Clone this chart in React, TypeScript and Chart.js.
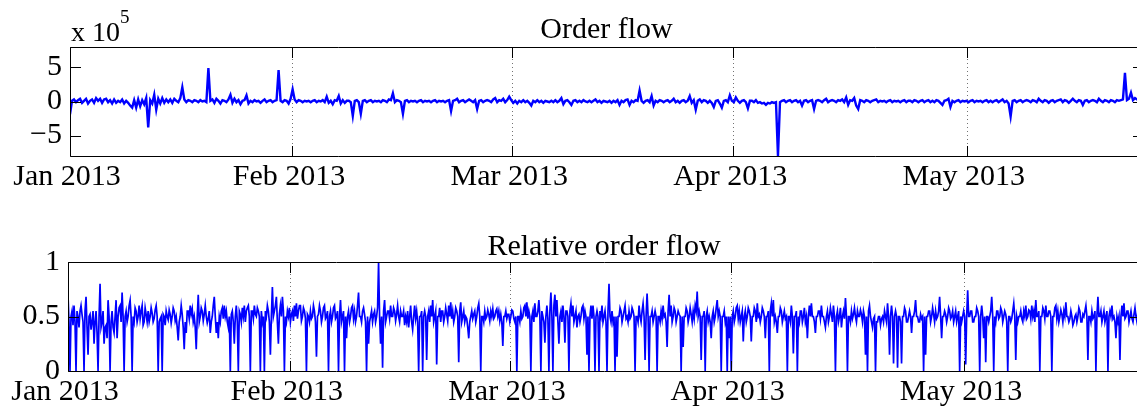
import React, { useEffect, useRef } from "react";
import { Chart, registerables } from "chart.js";

Chart.register(...registerables);

// ---- axis definitions ----
const monthTicks = [0, 21.1, 42.05, 63.05, 85.25];
const monthLabels = ["Jan 2013", "Feb 2013", "Mar 2013", "Apr 2013", "May 2013"];
const xSpan = 102;

const orderFlowTicks = [-5, 0, 5];
const orderFlowTickLabels = ["\u22125", "0", "5"];
const relTicks = [0, 0.5, 1];
const relTickLabels = ["0", "0.5", "1"];

// ---- series: order flow (units of 10^5) ----
const orderFlowE5 = [
  -1.9, .1, .3, -.1, .2, .4, -.2, .1, .4, -.3, .1, .3, -.2, .5, .1, .4, -.2, .3, .4, -.1,
  .2, -.3, .3, -.2, .1, -.1, .3, -.3, .1, -.2, -.6, -.9, .2, -.9, .3, -.7, .2, -.4, .5, -3.8,
  .2, -.3, 1, -1.2, .4, -.3, .5, -.2, .3, -.1, .3, -.2, .4, .1, -.1, .5, 2.1, .3, -.1, .2,
  .1, -.1, .2, .1, -.1, .2, 0, .1, -.1, 4.9, .1, .3, -.2, .4, .1, -.3, .2, .1, -.1, .3,
  1, -.2, .4, -.1, .2, -.4, .1, .2, .9, -.3, .1, -.1, .2, 0, .1, -.2, .1, .3, -.1, .1,
  .2, -.1, .1, .2, 4.6, .1, -.1, .2, .1, -.3, .4, 1.8, .3, -.1, .2, .1, -.1, .1, 0, .1,
  -.1, .1, .2, -.1, .1, 0, .2, -.1, .7, -.2, .1, -.4, .2, .1, .8, -.3, .2, -.2, .1, .1,
  -.1, -2.1, .1, .2, -.1, -1.8, .1, .2, -.1, .1, .2, -.1, .1, 0, .1, -.1, .2, .1, -.1, .3,
  .2, 1.2, -.1, .2, .1, -.1, -1.8, .1, .2, -.1, .1, 0, .1, -.1, .1, .2, -.1, .1, 0, .1,
  -.1, .1, .2, -.1, .1, 0, .1, -.1, .1, .2, -1.4, .1, .2, .4, -.1, .1, .2, -.1, .1, .3,
  .1, -.1, .2, -1.1, .1, .2, -.1, .1, .2, .1, -.1, .3, .5, -.1, .2, .1, .4, -.1, .2, .7,
  .2, -.2, .1, -.3, .1, -.1, .2, -.1, .1, -.2, -.6, .1, -.1, .2, -.1, .1, -.2, .1, 0, -.1,
  .1, -.1, .2, -.1, .1, .5, -.4, .1, .2, -.1, -.5, .1, .2, -.1, .1, -.1, .2, 0, -.1, .1,
  -.1, .1, .3, -.1, .1, -.2, .1, 0, -.1, .1, -.2, .1, -.1, .2, -.5, .1, -.1, .2, .3, -.5,
  .1, -.1, .2, .1, 1.6, .1, -.2, .1, .2, -.1, .8, -.6, .1, -.1, .2, .1, -.1, .1, .2, -.1,
  .1, .4, -.1, .1, -.2, .1, .2, -.1, .1, .8, -.2, .2, -1.2, .1, .3, -.1, .2, .1, -.2, .1,
  -.2, -.8, .1, .2, -.3, -.9, .1, .2, -.1, .9, .1, -.1, .6, .1, -.2, .1, .2, -.1, -1, .1,
  .1, -.1, .2, -.2, -.1, -.3, -.2, -.5, -.2, -.3, -.1, -.2, -.1, -8, -.1, .1, .2, -.1, .1, .2,
  -.1, .1, .2, -.1, .1, -.6, .1, .2, -.1, .1, .2, -1.1, .1, .2, .1, -.1, .2, .4, -.1, .1,
  .2, .1, -.1, .2, .1, .3, -.1, .6, -.5, .2, .1, .5, -.6, -1.1, .2, .1, -.1, .2, .1, -.1,
  .1, .2, .3, -.1, .1, 0, .1, -.1, .1, .2, -.1, .1, 0, .1, -.1, .1, .2, -.1, .1, .1,
  -.1, .2, .1, -.1, .1, .2, -.1, .1, .2, -.1, .1, -.1, .2, .1, -.2, -.5, .1, .2, .4, -.8,
  .1, -.1, .1, .2, -.1, .1, 0, .1, -.1, .1, .2, -.1, .1, 0, .1, -.1, .1, .2, -.1, .1,
  -.1, .1, .2, -.1, .1, .3, -.1, .1, -.3, -2.2, .1, .2, -.1, .1, .2, -.1, .1, .2, .1, -.1,
  .2, .1, -.1, .4, .1, -.1, .2, .1, -.2, .1, .2, -.1, .1, .2, .3, -.1, .2, .1, -.2, .1,
  .4, .1, -.1, .2, .1, -.5, .1, .2, -.1, .1, .2, .1, -.1, .4, .1, -.1, .2, .1, -.1, .2,
  .1, -.1, .2, .1, .2, .3, 4.2, .2, .4, 1.3, .2, .5, .3, .2, .3, .2,
];

// ---- series: relative order flow ----
const relOrderFlow = [
  .7, .45, 0, .5, .55, .42, .6, .45, 0, .55, .5, .4, .55, .6, .52, .45, 0, .55, .68, .4,
  .15, .5, .52, .38, .45, .55, .25, .45, .55, .35, 0, .5, .8, .4, .45, .55, .25, .4, .42, .3,
  .65, .5, 0, .45, .55, .4, .35, .5, .65, .3, .5, .58, .6, .45, .72, .5, 0, .5, .55, .45,
  .5, .6, .65, .5, 0, .5, .45, .58, .55, .45, .5, .6, .48, .55, .6, .42, .45, .58, .52, .45,
  .55, .45, .5, .58, .53, .45, .48, .56, .6, .5, 0, .45, .48, .5, 0, .52, .5, .42, .55, .5,
  .47, .56, .52, .44, .5, .58, .55, .46, .5, .4, .28, .45, .5, .6, .52, .4, .2, .45, .35, .55,
  .55, .48, .6, .52, .57, .45, .5, .4, .2, .5, .7, .45, .5, .58, .55, .46, .52, .6, .5, .44,
  .48, .55, .35, .45, .5, .6, .68, .5, .35, .45, .3, .5, .45, .55, .58, .48, .6, .5, .55, .45,
  .4, .5, 0, .52, .55, .45, .25, .5, .6, .45, 0, .55, .52, .45, .58, .5, .6, .45, .55, .58,
  .6, .5, 0, .55, .55, .48, .6, .52, .5, .58, .55, .5, 0, .55, .45, .5, 0, .55, .5, .6,
  .55, .45, .15, .5, .77, .5, .55, .6, .68, .45, .25, .52, .6, .5, .68, .55, 0, .5, .45, .55,
  .5, .58, .45, .52, .55, .46, .6, .5, .62, .48, .55, .6, .6, .46, .5, .58, .55, .48, 0, .52,
  .5, .45, .55, .48, .5, .6, .55, .45, .13, .5, .52, .6, .55, .45, .5, .58, .6, .48, .5, .55,
  0, .5, .55, .45, .5, .58, .6, .48, .5, .55, 0, .5, .65, .45, .5, .55, 0, .5, .3, .5,
  .55, .45, .5, .58, .6, .48, .55, .45, .5, .6, .72, .5, .5, .45, .55, .58, .52, .45, 0, .5,
  .25, .45, .5, .55, .45, .52, .55, .45, .5, .58, 1, .5, .25, .5, .03, .55, .65, .45, .5, .55,
  .55, .48, .6, .5, .5, .58, .55, .46, .52, .6, .5, .45, .55, .5, .5, .55, .42, .5, .45, .55,
  .4, .5, .6, .45, .38, .5, .6, .48, .55, .45, 0, .5, .5, .55, 0, .5, .55, .5, .1, .5,
  .55, .45, .6, .5, .65, .45, .5, .55, .06, .5, .5, .58, .45, .55, .55, .45, .5, .58, .52, .46,
  .6, .5, .63, .48, .55, .45, .5, .58, .55, .5, .08, .55, .63, .45, .5, .55, .45, .5, .48, .4,
  .3, .45, .5, .55, .48, .52, .55, .45, .5, .58, .62, .5, 0, .5, .5, .45, .55, .48, .5, .56,
  .52, .46, .55, .5, .57, .48, .5, .55, .57, .5, .55, .46, .52, .45, .23, .5, .5, .55, .48, .52,
  .52, .45, .5, .56, .55, .48, .45, .5, 0, .5, .5, .45, .55, .48, .5, .58, .6, .5, .63, .48,
  .55, .5, 0, .5, .55, .45, .62, .5, .5, .55, .65, .5, 0, .55, .5, .45, .26, .5, .6, .48,
  0, .55, .72, .5, 0, .6, .7, .5, .65, .45, .25, .5, .55, .45, .6, .5, .26, .55, .55, .5,
  0, .55, .62, .5, .6, .45, .5, .55, .4, .5, .52, .45, .5, .58, .6, .48, .55, .5, .15, .5,
  0, .5, .6, .48, .6, .5, 0, .5, .55, .5, 0, .55, .5, .6, .45, .5, .55, .45, 0, .55,
  .8, .5, .45, .55, .45, .5, 0, .5, .13, .5, .5, .58, .55, .45, .5, .55, .6, .48, .5, .45,
  .55, .48, .5, .58, .55, .5, 0, .5, .5, .45, .6, .5, .45, .55, .62, .5, .1, .5, .71, .5,
  0, .5, .5, .55, .45, .5, .55, .5, 0, .5, .5, .45, .55, .48, .6, .5, .52, .45, .22, .55,
  .7, .5, .6, .45, .5, .58, .55, .45, .5, .55, .52, .5, 0, .5, .22, .5, .5, .58, .55, .45,
  .5, .58, .52, .45, .55, .48, .6, .55, .73, .5, .55, .5, .1, .5, .5, .55, 0, .5, .55, .45,
  .5, .45, .3, .5, .55, .45, .5, .58, .65, .5, .55, .5, 0, .5, .5, .55, .45, .5, 0, .5,
  .3, .5, 0, .5, .55, .45, .5, .58, .6, .48, .55, .45, .5, .55, .27, .5, .55, .45, .5, .58,
  .55, .5, .27, .5, .5, .58, .55, .45, .62, .5, .52, .45, .5, .58, .55, .5, .3, .5, .5, .55,
  0, .55, .62, .5, .65, .45, .5, .45, .35, .5, .5, .58, .55, .45, .5, .55, .48, .5, 0, .5,
  .5, .45, .6, .5, .16, .5, .5, .55, 0, .5, .45, .55, .55, .45, .5, .58, .45, .5, .3, .5,
  .6, .5, .62, .5, .5, .45, .35, .5, .5, .55, .55, .48, .6, .5, .5, .45, .4, .5, .55, .45,
  .5, .58, .52, .45, .6, .5, 0, .5, .55, .45, .5, .58, .4, .5, .55, .48, .67, .5, 0, .5,
  .5, .45, .55, .48, .52, .58, .5, .45, .55, .5, .5, .56, .52, .45, .55, .5, .15, .5, 0, .55,
  .6, .5, .45, .4, .48, .5, 0, .45, .45, .5, .5, .42, .48, .5, .45, .55, .5, .45, .62, .5,
  .15, .5, .6, .5, .07, .5, .55, .5, .03, .5, .5, .45, .07, .5, .5, .58, .55, .45, .45, .5,
  .55, .5, .35, .5, .5, .55, .65, .5, .5, .45, .45, .52, .48, .5, 0, .5, .15, .5, .5, .55,
  .55, .45, .5, .58, .52, .45, .55, .48, .5, .55, .68, .5, .3, .5, .5, .55, .52, .45, .5, .58,
  .55, .48, .5, .55, .45, .5, .55, .45, .5, .55, 0, .5, .45, .5, .55, .5, .06, .5, .74, .5,
  .5, .55, .55, .45, .45, .5, .5, .58, .55, .5, 0, .5, .6, .5, .3, .5, .08, .5, .5, .45,
  .5, .55, .68, .5, 0, .5, .45, .55, .55, .48, .5, .58, .55, .45, .5, .55, .52, .45, 0, .5,
  .5, .45, .48, .55, .62, .5, .1, .5, .45, .5, .5, .55, .48, .45, .55, .5, .6, .48, .5, .56,
  .55, .48, .6, .5, .55, .45, .65, .5, .5, .55, 0, .5, .5, .58, .55, .48, .6, .5, .5, .55,
  .55, .5, 0, .5, .5, .58, .6, .48, .55, .45, .5, .56, .52, .45, .55, .5, .63, .5, .5, .45,
  .48, .55, .5, .42, .45, .5, .52, .45, .5, .58, .55, .45, .45, .52, .5, .55, .6, .5, .1, .5,
  .5, .45, .55, .48, .5, .55, 0, .5, .68, .5, .5, .55, .45, .5, .55, .45, .5, .55, 0, .5,
  .55, .5, .6, .48, .5, .45, .3, .5, .45, .5, .1, .5, .6, .5, .62, .48, .5, .55, .55, .45,
  .5, .55, .48, .45, .52, .58, .5, .45, .55, .5, .5,
];

const FONT = '"Liberation Serif", "Times New Roman", Times, serif';
const CANVAS_W = 1160;
const CANVAS_H = 205;

type Panel = {
  values: number[];
  yMin: number;
  yMax: number;
  yTicks: number[];
  yLabels: string[];
  left: number;
  right: number;
  top: number;
  bottom: number;
  title: string;
  titleY: number;
  lineWidth: number;
  exponent: boolean;
};

function framePlugin(p: Panel) {
  return {
    id: "matlabFrame",
    beforeDatasetsDraw(chart: any) {
      const { ctx, chartArea: a, scales } = chart;
      const x = scales.x;
      ctx.save();
      ctx.strokeStyle = "rgba(0,0,0,0.55)";
      ctx.lineWidth = 1;
      ctx.setLineDash([1, 3]);
      for (const v of monthTicks) {
        const px = Math.round(x.getPixelForValue(v)) + 0.5;
        ctx.beginPath();
        ctx.moveTo(px, a.top);
        ctx.lineTo(px, a.bottom);
        ctx.stroke();
      }
      ctx.restore();
    },
    afterDraw(chart: any) {
      const { ctx, chartArea: a, scales } = chart;
      const x = scales.x;
      const y = scales.y;
      const L = Math.round(a.left) + 0.5;
      const R = Math.round(a.right) + 0.5;
      const T = Math.round(a.top) + 0.5;
      const B = Math.round(a.bottom) + 0.5;
      const tl = 10.5;
      ctx.save();
      ctx.strokeStyle = "#000";
      ctx.lineWidth = 1;
      ctx.setLineDash([]);
      ctx.beginPath();
      ctx.rect(L, T, R - L, B - T);
      ctx.stroke();
      ctx.beginPath();
      for (const v of monthTicks) {
        const px = Math.round(x.getPixelForValue(v)) + 0.5;
        ctx.moveTo(px, B);
        ctx.lineTo(px, B - tl);
        ctx.moveTo(px, T);
        ctx.lineTo(px, T + tl);
      }
      for (const v of p.yTicks) {
        const py = Math.round(y.getPixelForValue(v)) + 0.5;
        ctx.moveTo(L, py);
        ctx.lineTo(L + tl, py);
        ctx.moveTo(R, py);
        ctx.lineTo(R - tl, py);
      }
      ctx.stroke();

      ctx.fillStyle = "#000";
      ctx.textAlign = "center";
      ctx.textBaseline = "alphabetic";
      ctx.font = `30px ${FONT}`;
      ctx.fillText(p.title, (a.left + a.right) / 2, p.titleY);

      if (p.exponent) {
        ctx.textAlign = "left";
        ctx.font = `28px ${FONT}`;
        ctx.fillText("x 10", 71, 41);
        ctx.font = `19px ${FONT}`;
        ctx.fillText("5", 120, 23);
      }
      ctx.restore();
    },
  };
}

function buildConfig(p: Panel): any {
  const n = p.values.length;
  const points = p.values.map((v, i) => ({ x: (i * xSpan) / (n - 1), y: v }));
  return {
    type: "line",
    data: {
      datasets: [
        {
          data: points,
          borderColor: "#0000ff",
          borderWidth: p.lineWidth,
          pointRadius: 0,
          tension: 0,
          fill: false,
          borderJoinStyle: "miter",
        },
      ],
    },
    options: {
      animation: false,
      responsive: false,
      events: [],
      layout: {
        padding: { left: 0, right: CANVAS_W - p.right, top: p.top, bottom: 0 },
      },
      plugins: {
        legend: { display: false },
        tooltip: { enabled: false },
        title: { display: false },
      },
      scales: {
        x: {
          type: "linear",
          min: 0,
          max: xSpan,
          afterBuildTicks: (s: any) => {
            s.ticks = monthTicks.map((v) => ({ value: v }));
          },
          afterFit: (s: any) => {
            s.height = CANVAS_H - p.bottom;
          },
          ticks: {
            autoSkip: false,
            maxRotation: 0,
            padding: 6,
            labelOffset: -3,
            color: "#000",
            font: { family: FONT, size: 30, lineHeight: 1 },
            callback: (v: any) => {
              const k = monthTicks.indexOf(Number(v));
              return k >= 0 ? monthLabels[k] : "";
            },
          },
          grid: { display: false, drawTicks: false },
          border: { display: false },
        },
        y: {
          type: "linear",
          min: p.yMin,
          max: p.yMax,
          afterBuildTicks: (s: any) => {
            s.ticks = p.yTicks.map((v) => ({ value: v }));
          },
          afterFit: (s: any) => {
            s.width = p.left;
          },
          ticks: {
            autoSkip: false,
            padding: 8,
            color: "#000",
            font: { family: FONT, size: 30, lineHeight: 1 },
            callback: (v: any) => {
              const k = p.yTicks.indexOf(Number(v));
              return k >= 0 ? p.yLabels[k] : "";
            },
          },
          grid: { display: false, drawTicks: false },
          border: { display: false },
        },
      },
    },
    plugins: [framePlugin(p)],
  };
}

const topPanel: Panel = {
  values: orderFlowE5,
  yMin: -8,
  yMax: 8,
  yTicks: orderFlowTicks,
  yLabels: orderFlowTickLabels,
  left: 70,
  right: 1143,
  top: 47,
  bottom: 156,
  title: "Order flow",
  titleY: 38,
  lineWidth: 2.4,
  exponent: true,
};

const bottomPanel: Panel = {
  values: relOrderFlow,
  yMin: 0,
  yMax: 1,
  yTicks: relTicks,
  yLabels: relTickLabels,
  left: 68,
  right: 1140,
  top: 57,
  bottom: 166,
  title: "Relative order flow",
  titleY: 50,
  lineWidth: 1.7,
  exponent: false,
};

export default function App() {
  const topRef = useRef<HTMLCanvasElement>(null);
  const botRef = useRef<HTMLCanvasElement>(null);

  useEffect(() => {
    const c1 = new Chart(topRef.current as HTMLCanvasElement, buildConfig(topPanel));
    const c2 = new Chart(botRef.current as HTMLCanvasElement, buildConfig(bottomPanel));
    return () => {
      c1.destroy();
      c2.destroy();
    };
  }, []);

  return (
    <div
      style={{
        position: "fixed",
        left: 0,
        top: 0,
        width: 1137,
        height: 410,
        overflow: "hidden",
        background: "#fff",
      }}
    >
      <canvas
        ref={topRef}
        width={CANVAS_W}
        height={CANVAS_H}
        style={{ position: "absolute", left: 0, top: 0, width: CANVAS_W, height: CANVAS_H }}
      />
      <canvas
        ref={botRef}
        width={CANVAS_W}
        height={CANVAS_H}
        style={{ position: "absolute", left: 0, top: 205, width: CANVAS_W, height: CANVAS_H }}
      />
    </div>
  );
}
